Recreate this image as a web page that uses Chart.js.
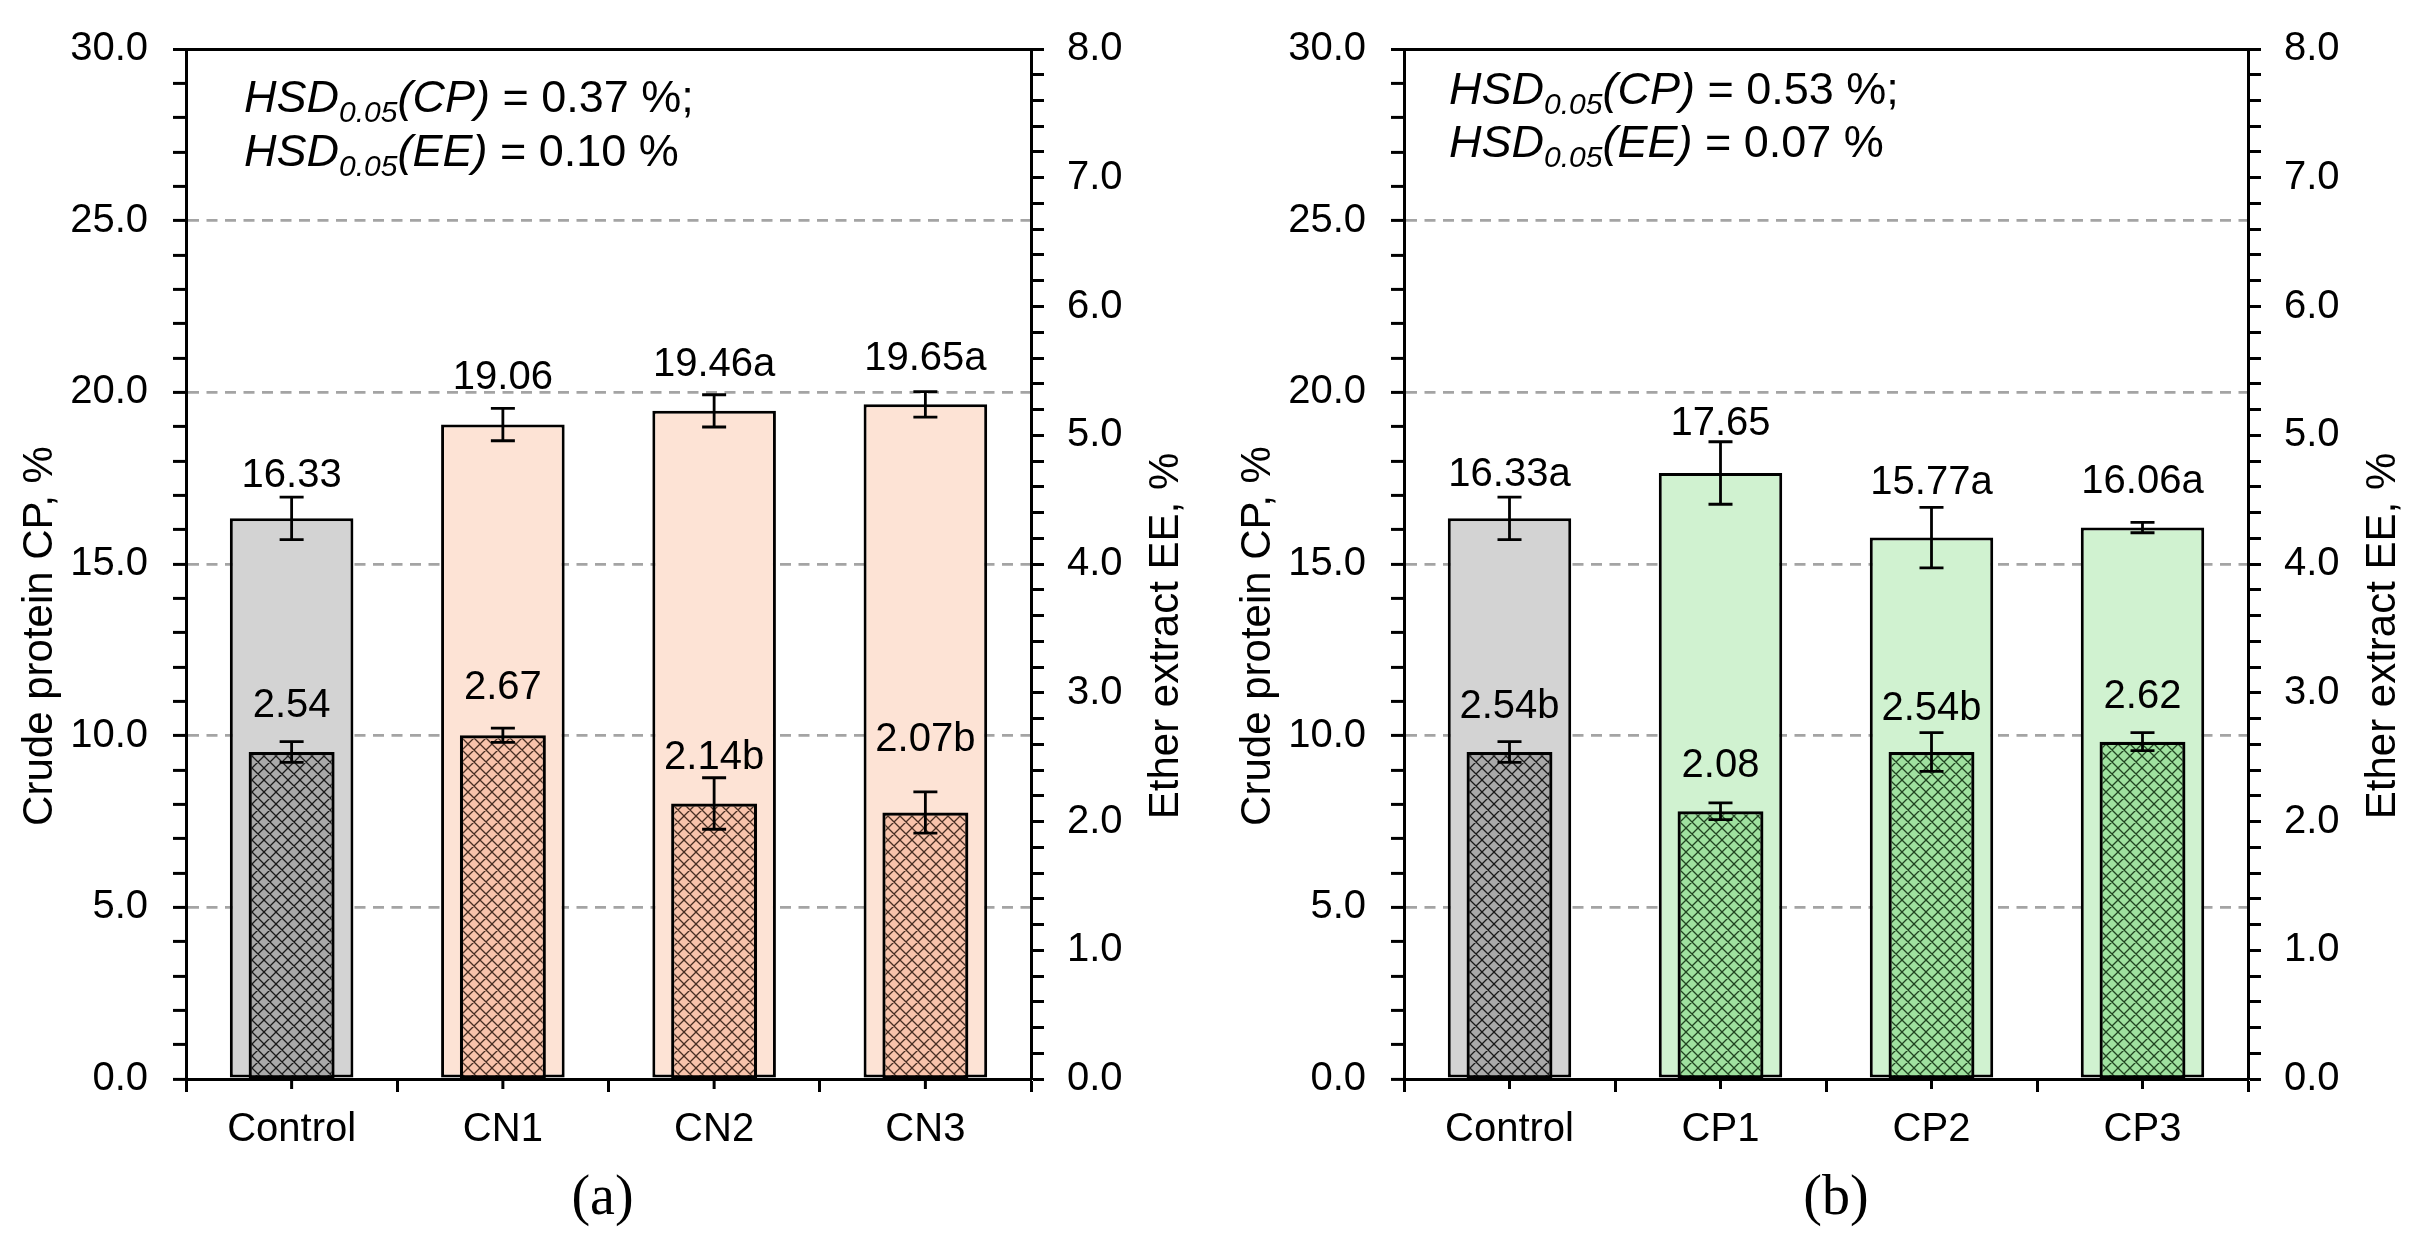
<!DOCTYPE html>
<html>
<head>
<meta charset="utf-8">
<script src="https://cdn.jsdelivr.net/npm/chart.js@4.4.0/dist/chart.umd.min.js"></script>
<style>
  html, body { margin: 0; padding: 0; background: #fff; width: 2411px; height: 1241px; overflow: hidden; }
  canvas { position: absolute; top: 0; }
  #panelA { left: 0; }
  #panelB { left: 1218px; }
</style>
</head>
<body>
<canvas id="panelA" width="1218" height="1241"></canvas>
<canvas id="panelB" width="1193" height="1241"></canvas>
<script>
// Datos panel (a)
const catsA = ['Control', 'CN1', 'CN2', 'CN3'];
const cpA = [16.33, 19.06, 19.46, 19.65];
const cpErrA = [0.62, 0.47, 0.47, 0.37];
const eeA = [2.54, 2.67, 2.14, 2.07];
const eeErrA = [0.08, 0.055, 0.20, 0.16];
const cpLettersA = ['', '', 'a', 'a'];
const eeLettersA = ['', '', 'b', 'b'];
const hsdA = [0.37, 0.10];

// Datos panel (b)
const catsB = ['Control', 'CP1', 'CP2', 'CP3'];
const cpB = [16.33, 17.65, 15.77, 16.06];
const cpErrB = [0.62, 0.91, 0.88, 0.15];
const eeB = [2.54, 2.08, 2.54, 2.62];
const eeErrB = [0.08, 0.065, 0.15, 0.07];
const cpLettersB = ['a', '', 'a', 'a'];
const eeLettersB = ['b', '', 'b', ''];
const hsdB = [0.53, 0.07];

// Ejes
const cpAxis = { min: 0, max: 30, major: 5, minor: 1 };
const eeAxis = { min: 0, max: 8, major: 1, minor: 0.2 };

const FONT = "'Liberation Sans', Arial, sans-serif";
const SERIF = "'Liberation Serif', 'Times New Roman', serif";
const LW = 3;

// trama cruzada para las barras de EE
function hatch(bg, line) {
  const s = 12;
  const c = document.createElement('canvas');
  c.width = s; c.height = s;
  const g = c.getContext('2d');
  g.fillStyle = bg;
  g.fillRect(0, 0, s, s);
  g.strokeStyle = line;
  g.lineWidth = 1.3;
  g.beginPath();
  for (let k = -1; k <= 1; k++) {
    g.moveTo(k * s, 0); g.lineTo(k * s + s, s);
    g.moveTo(k * s + s, 0); g.lineTo(k * s, s);
  }
  g.stroke();
  return document.createElement('canvas').getContext('2d').createPattern(c, 'repeat');
}

const isMult = (v, m) => Math.abs(v / m - Math.round(v / m)) < 1e-6;

function makePanel(id, p) {
  const canvas = document.getElementById(id);
  const W = canvas.width, H = canvas.height;
  const bottomY = 1079;

  const extras = {
    id: 'extras',
    afterDatasetsDraw(chart) {
      const ctx = chart.ctx;
      const x = chart.scales.x, y = chart.scales.y, y1 = chart.scales.y1;
      const area = chart.chartArea;
      ctx.save();

      // ticks centrales del eje x
      ctx.strokeStyle = '#000';
      ctx.lineWidth = LW;
      p.cats.forEach((c, i) => {
        const cx = x.getPixelForValue(i);
        ctx.beginPath();
        ctx.moveTo(cx, area.bottom);
        ctx.lineTo(cx, area.bottom + 10);
        ctx.stroke();
      });

      // barras de error + etiquetas
      const errores = (vals, errs, letters, gaps, scale) => {
        vals.forEach((v, i) => {
          const cx = x.getPixelForValue(i);
          const t = scale.getPixelForValue(v + errs[i]);
          const b = scale.getPixelForValue(v - errs[i]);
          ctx.strokeStyle = '#000';
          ctx.lineWidth = 2.8;
          ctx.beginPath();
          ctx.moveTo(cx, t); ctx.lineTo(cx, b);
          ctx.moveTo(cx - 12, t); ctx.lineTo(cx + 12, t);
          ctx.moveTo(cx - 12, b); ctx.lineTo(cx + 12, b);
          ctx.stroke();
          ctx.fillStyle = '#000';
          ctx.font = '40px ' + FONT;
          ctx.textAlign = 'center';
          ctx.textBaseline = 'alphabetic';
          ctx.fillText(v.toFixed(2) + letters[i], cx, t - gaps[i]);
        });
      };
      errores(p.cp, p.cpErr, p.cpLetters, p.cpGaps, y);
      errores(p.ee, p.eeErr, p.eeLetters, p.eeGaps, y1);

      // texto HSD
      const hsdLine = (yy, name, val, tail) => {
        let xx = area.left + p.hsdX;
        ctx.textAlign = 'left';
        ctx.font = 'italic 45px ' + FONT;
        ctx.fillText('HSD', xx, yy); xx += ctx.measureText('HSD').width;
        ctx.font = 'italic 30px ' + FONT;
        ctx.fillText('0.05', xx, yy + 10); xx += ctx.measureText('0.05').width;
        ctx.font = 'italic 45px ' + FONT;
        ctx.fillText('(' + name + ')', xx, yy); xx += ctx.measureText('(' + name + ')').width;
        ctx.font = '45px ' + FONT;
        ctx.fillText(' = ' + val.toFixed(2) + ' %' + tail, xx, yy);
      };
      hsdLine(p.hsdY[0], 'CP', p.hsd[0], ';');
      hsdLine(p.hsdY[1], 'EE', p.hsd[1], '');

      // titulos de ejes
      const cy = (area.top + area.bottom) / 2 + 72;
      ctx.font = '42px ' + FONT;
      ctx.textAlign = 'center';
      ctx.save();
      ctx.translate(area.left - 134, cy);
      ctx.rotate(-Math.PI / 2);
      ctx.fillText('Crude protein CP, %', 0, 0);
      ctx.restore();
      ctx.save();
      ctx.translate(area.right + 147, cy);
      ctx.rotate(-Math.PI / 2);
      ctx.fillText('Ether extract EE, %', 0, 0);
      ctx.restore();

      // (a) / (b)
      ctx.font = '56px ' + SERIF;
      ctx.fillText(p.caption, (area.left + area.right) / 2 + p.capDX, 1214);

      ctx.restore();
    }
  };

  const tickFont = { family: FONT, size: 40 };

  return new Chart(canvas, {
    type: 'bar',
    data: {
      labels: p.cats,
      datasets: [
        {
          label: 'CP',
          data: p.cp,
          yAxisID: 'y',
          order: 2,
          grouped: false,
          categoryPercentage: 1,
          barPercentage: 0.585,
          backgroundColor: p.cpColors,
          borderColor: '#000',
          borderWidth: 3,
          borderSkipped: false
        },
        {
          label: 'EE',
          data: p.ee,
          yAxisID: 'y1',
          order: 1,
          grouped: false,
          categoryPercentage: 1,
          barPercentage: 0.407,
          backgroundColor: p.eeColors,
          borderColor: '#000',
          borderWidth: 3.2,
          borderSkipped: false
        }
      ]
    },
    options: {
      responsive: false,
      animation: false,
      events: [],
      layout: { padding: { top: 37, left: 0, right: 0, bottom: 0 } },
      plugins: { legend: { display: false }, tooltip: { enabled: false } },
      scales: {
        x: {
          offset: true,
          grid: { offset: true, drawOnChartArea: false, tickLength: 13, tickWidth: LW, tickColor: '#000' },
          border: { color: '#000', width: LW },
          ticks: { color: '#000', font: tickFont, padding: 14, maxRotation: 0 },
          afterFit: s => { s.height = H - bottomY; }
        },
        y: {
          position: 'left',
          min: cpAxis.min,
          max: cpAxis.max,
          ticks: {
            stepSize: cpAxis.minor,
            autoSkip: false,
            maxTicksLimit: 100,
            color: '#000',
            font: tickFont,
            padding: 25,
            callback: v => isMult(v, cpAxis.major) ? v.toFixed(1) : ''
          },
          grid: {
            color: c => {
              const v = c.tick ? c.tick.value : 0;
              if (v === cpAxis.max) return '#000';
              if (v > cpAxis.min && isMult(v, cpAxis.major)) return '#a4a4a4';
              return 'rgba(0,0,0,0)';
            },
            lineWidth: c => (c.tick && c.tick.value === cpAxis.max) ? LW : 2.8,
            tickLength: 13,
            tickWidth: LW,
            tickColor: '#000'
          },
          border: {
            color: '#000',
            width: LW,
            dash: c => (c.tick && c.tick.value === cpAxis.max) ? [] : [11, 7.5]
          },
          afterFit: s => { s.width = 186; }
        },
        y1: {
          position: 'right',
          min: eeAxis.min,
          max: eeAxis.max,
          ticks: {
            stepSize: eeAxis.minor,
            autoSkip: false,
            maxTicksLimit: 100,
            color: '#000',
            font: tickFont,
            padding: 23,
            callback: v => isMult(v, eeAxis.major) ? v.toFixed(1) : ''
          },
          grid: { drawOnChartArea: false, tickLength: 13, tickWidth: LW, tickColor: '#000' },
          border: { color: '#000', width: LW },
          afterFit: s => { s.width = W - p.rightX; }
        }
      }
    },
    plugins: [extras]
  });
}

const grayHatch = hatch('#a9a9a9', 'rgba(0,0,0,0.85)');
const peachHatch = hatch('#f8c3ab', 'rgba(40,20,10,0.85)');
const greenHatch = hatch('#9fe19f', 'rgba(10,40,10,0.85)');

makePanel('panelA', {
  cats: catsA, cp: cpA, cpErr: cpErrA, ee: eeA, eeErr: eeErrA,
  cpLetters: cpLettersA, eeLetters: eeLettersA, hsd: hsdA,
  cpColors: ['#d3d3d3', '#fde3d5', '#fde3d5', '#fde3d5'],
  eeColors: [grayHatch, peachHatch, peachHatch, peachHatch],
  cpGaps: [10, 19, 19, 22], eeGaps: [25, 29, 9, 41],
  hsdX: 58, hsdY: [112, 166], caption: '(a)', capDX: -6, rightX: 1031
});

makePanel('panelB', {
  cats: catsB, cp: cpB, cpErr: cpErrB, ee: eeB, eeErr: eeErrB,
  cpLetters: cpLettersB, eeLetters: eeLettersB, hsd: hsdB,
  cpColors: ['#d3d3d3', '#d0f2d0', '#d0f2d0', '#d0f2d0'],
  eeColors: [grayHatch, greenHatch, greenHatch, greenHatch],
  cpGaps: [11, 7, 13, 29], eeGaps: [24, 26, 13, 25],
  hsdX: 45, hsdY: [104, 157], caption: '(b)', capDX: 10, rightX: 1030
});
</script>
</body>
</html>
